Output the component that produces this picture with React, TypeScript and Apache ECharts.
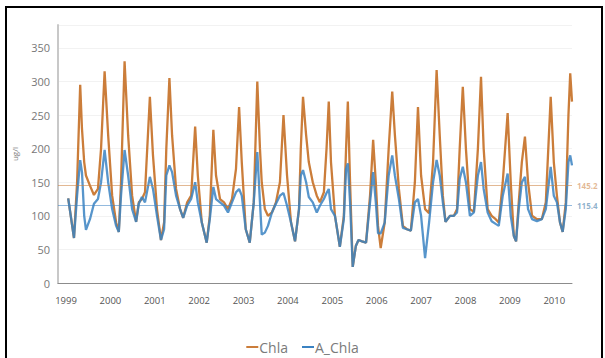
import React, { useEffect, useRef } from "react";
import * as echarts from "echarts";

const years = [
  1999.05, 1999.18, 1999.25, 1999.32, 1999.36, 1999.41, 1999.45, 1999.54, 1999.63, 1999.72, 1999.79, 1999.87, 1999.95,
  2000.04, 2000.13, 2000.19, 2000.24, 2000.32, 2000.40, 2000.49, 2000.58, 2000.64, 2000.71, 2000.78, 2000.89, 2000.96,
  2001.05, 2001.14, 2001.21, 2001.26, 2001.33, 2001.39, 2001.48, 2001.57, 2001.64, 2001.73, 2001.82, 2001.91, 2001.97,
  2002.06, 2002.17, 2002.24, 2002.32, 2002.38, 2002.47, 2002.56, 2002.65, 2002.74, 2002.83, 2002.90, 2002.96,
  2003.05, 2003.14, 2003.23, 2003.31, 2003.37, 2003.41, 2003.48, 2003.55, 2003.64, 2003.73, 2003.82, 2003.90, 2003.98,
  2004.07, 2004.16, 2004.25, 2004.29, 2004.34, 2004.41, 2004.47, 2004.56, 2004.65, 2004.72, 2004.81, 2004.87, 2004.92, 2004.97,
  2005.06, 2005.17, 2005.26, 2005.31, 2005.35, 2005.40, 2005.46, 2005.53, 2005.59, 2005.67, 2005.76, 2005.85, 2005.92, 2005.98,
  2006.03, 2006.09, 2006.18, 2006.27, 2006.35, 2006.41, 2006.50, 2006.59, 2006.68, 2006.77, 2006.86, 2006.93,
  2007.00, 2007.09, 2007.18, 2007.27, 2007.35, 2007.42, 2007.49, 2007.55, 2007.65, 2007.74, 2007.81, 2007.87, 2007.94,
  2008.01, 2008.10, 2008.19, 2008.28, 2008.35, 2008.41, 2008.50, 2008.59, 2008.68, 2008.75, 2008.84, 2008.95,
  2009.02, 2009.09, 2009.14, 2009.20, 2009.27, 2009.34, 2009.41, 2009.50, 2009.61, 2009.72, 2009.81, 2009.92, 2009.99,
  2010.06, 2010.13, 2010.19, 2010.26, 2010.32, 2010.36, 2010.40,
];

const chla = [
  126, 67, 150, 295, 230, 180, 160, 145, 131, 140, 200, 315, 220,
  130, 90, 76, 150, 330, 220, 130, 91, 120, 125, 135, 277, 190,
  110, 64, 90, 200, 305, 220, 140, 110, 97, 120, 130, 233, 160,
  90, 60, 100, 228, 160, 125, 120, 110, 125, 170, 262, 180,
  80, 60, 120, 300, 200, 150, 110, 100, 105, 120, 150, 250, 160,
  90, 62, 110, 200, 277, 220, 180, 150, 130, 120, 135, 200, 270, 180,
  100, 54, 100, 200, 270, 150, 24, 55, 64, 62, 60, 130, 213, 150,
  85, 52, 90, 200, 285, 220, 140, 85, 80, 78, 150, 262,
  160, 110, 104, 180, 317, 220, 130, 91, 100, 100, 110, 200, 292,
  200, 110, 106, 200, 307, 200, 110, 100, 95, 90, 150, 253,
  150, 70, 62, 120, 180, 218, 150, 100, 95, 95, 120, 277, 180,
  130, 90, 76, 120, 250, 312, 270,
];

const aChla = [
  126, 67, 130, 183, 165, 100, 79, 95, 118, 125, 150, 198, 150,
  110, 85, 76, 130, 198, 160, 110, 91, 118, 128, 120, 158, 140,
  100, 64, 80, 160, 175, 165, 130, 110, 97, 115, 125, 150, 120,
  90, 60, 95, 143, 125, 120, 115, 105, 120, 135, 140, 130,
  80, 60, 120, 195, 120, 72, 75, 85, 105, 118, 130, 134, 115,
  90, 62, 110, 160, 168, 150, 128, 120, 105, 115, 125, 134, 140, 110,
  100, 54, 95, 170, 178, 120, 24, 55, 64, 62, 60, 120, 165, 120,
  74, 74, 90, 160, 190, 160, 125, 82, 80, 78, 120, 125,
  100, 37, 90, 150, 183, 160, 120, 91, 100, 100, 105, 155, 173,
  150, 100, 105, 160, 180, 140, 105, 92, 88, 85, 130, 163,
  100, 70, 62, 110, 150, 158, 110, 95, 92, 95, 110, 173, 130,
  120, 90, 76, 110, 180, 190, 175,
];

const yearTicks = [1999, 2000, 2001, 2002, 2003, 2004, 2005, 2006, 2007, 2008, 2009, 2010];
const chlaMean = 145.2;
const aChlaMean = 115.4;

const ORANGE = "#cb7d3a";
const BLUE = "#3a82c2";

export default function App() {
  const ref = useRef<HTMLDivElement>(null);
  useEffect(() => {
    document.body.style.margin = "0";
    if (!ref.current) return;
    const chart = echarts.init(ref.current, undefined, { renderer: "svg" });
    const font = "'Open Sans', 'Liberation Sans', sans-serif";
    chart.setOption({
      animation: false,
      backgroundColor: "#ffffff",
      textStyle: { fontFamily: font },
      grid: { left: 58, right: 33, top: 25, bottom: 75 },
      legend: {
        left: "center",
        top: 335,
        itemWidth: 12,
        itemHeight: 2,
        itemGap: 14,
        icon: "rect",
        textStyle: { color: "#7a7a7a", fontSize: 14, fontFamily: font, padding: [0, 0, 0, -4] },
        data: ["Chla", "A_Chla"],
      },
      xAxis: {
        type: "value",
        min: 1998.82,
        max: 2010.4,
        axisLine: { lineStyle: { color: "#8c8c8c", width: 1 } },
        axisTick: { show: false },
        splitLine: { show: false },
        axisLabel: {
          customValues: yearTicks,
          color: "#555555",
          fontSize: 9.5,
          margin: 12,
          formatter: (v: number) => String(Math.round(v)),
        },
      },
      yAxis: {
        type: "value",
        min: 0,
        max: 384,
        interval: 50,
        name: "ug/l",
        nameLocation: "middle",
        nameGap: 40,
        nameRotate: 90,
        nameTextStyle: { color: "#777777", fontSize: 8 },
        axisLine: { show: true, lineStyle: { color: "#c8c8c8", width: 2 } },
        axisTick: { show: false },
        axisLabel: { color: "#777777", fontSize: 11, margin: 8, showMaxLabel: false },
        splitLine: { lineStyle: { color: "#f2f2f2", width: 1 } },
      },
      series: [
        {
          name: "Chla",
          type: "line",
          data: years.map((t, i) => [t, chla[i]]),
          showSymbol: false,
          symbol: "none",
          lineStyle: { color: ORANGE, width: 2.3 },
          itemStyle: { color: ORANGE },
          markLine: {
            silent: true,
            symbol: "none",
            data: [{ yAxis: chlaMean }],
            lineStyle: { color: ORANGE, width: 1, type: "solid", opacity: 0.55 },
            label: { position: "end", color: ORANGE, fontSize: 8, fontWeight: "bold", distance: 5, formatter: "145.2" },
          },
        },
        {
          name: "A_Chla",
          type: "line",
          data: years.map((t, i) => [t, aChla[i]]),
          showSymbol: false,
          symbol: "none",
          lineStyle: { color: BLUE, width: 2.3, opacity: 0.85 },
          itemStyle: { color: BLUE },
          markLine: {
            silent: true,
            symbol: "none",
            data: [{ yAxis: aChlaMean }],
            lineStyle: { color: BLUE, width: 1, type: "solid", opacity: 0.55 },
            label: { position: "end", color: "#2f6f9f", fontSize: 8, fontWeight: "bold", distance: 5, formatter: "115.4" },
          },
        },
      ],
    });
    return () => chart.dispose();
  }, []);
  return (
    <div style={{ position: "relative", width: 605, height: 358, overflow: "hidden", background: "#fff" }}>
      <div ref={ref} style={{ position: "absolute", left: 0, top: 0, width: 605, height: 358 }} />
      <div
        style={{
          position: "absolute",
          left: 5,
          top: 6,
          width: 598,
          height: 360,
          boxSizing: "border-box",
          border: "2px solid #000",
          pointerEvents: "none",
        }}
      />
    </div>
  );
}
